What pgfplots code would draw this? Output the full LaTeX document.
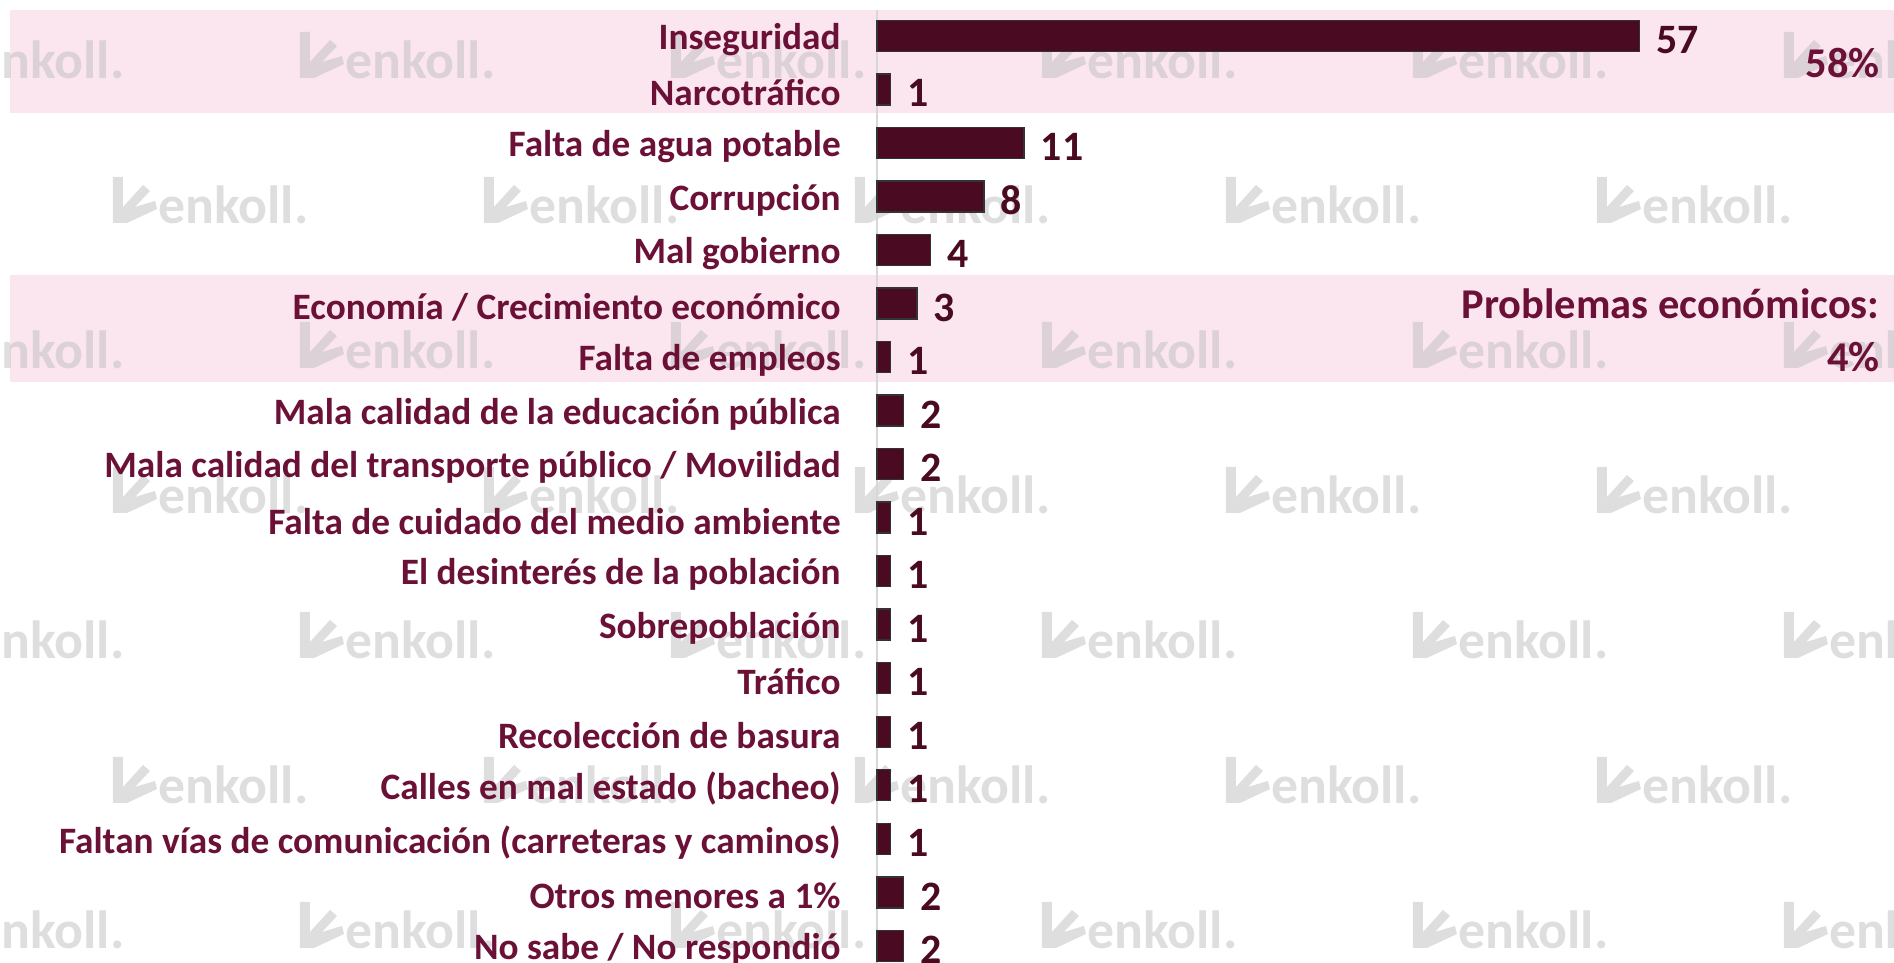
\documentclass[border=0pt]{standalone}
\usepackage{pgfplots}
\pgfplotsset{compat=1.18}
\usepackage{fontspec}
\setmainfont{Carlito}
\definecolor{barc}{RGB}{74,10,34}
\definecolor{labc}{RGB}{107,16,54}
\definecolor{valc}{RGB}{74,10,34}
\definecolor{band}{RGB}{251,230,239}
\definecolor{wm}{RGB}{190,190,190}
\definecolor{axl}{RGB}{215,215,215}
\newcommand{\wmark}[2]{%
  \fill[wm,opacity=0.5] (#1-100,#2-28) -- (#1-90,#2-28) -- (#1-90,#2+2) -- (#1-70,#2-20) -- (#1-63,#2-14) -- (#1-78,#2+2) -- (#1-58,#2-4) -- (#1-56,#2+4) -- (#1-86,#2+18) -- (#1-100,#2+18) -- cycle;
  \node[anchor=west,inner sep=0pt,text=wm,opacity=0.5,font=\bfseries\fontsize{27}{27}\selectfont] at (#1-55,#2) {enkoll.};}
\begin{document}
\begin{tikzpicture}
% background bands and watermarks (pixel grid: 1px = 0.5bp)
\begin{scope}[shift={(0,481.5bp)},x=0.5bp,y=-0.5bp]
\fill[band] (10,10) rectangle (1894,113);
\fill[band] (10,275) rectangle (1894,382);
\begin{scope}
\clip (0,0) rectangle (1894,963);
\foreach \yy in {60,350,640,930}{
  \foreach \xx in {29,400,771,1142,1513,1884}{
    \wmark{\xx}{\yy}
  }}
\foreach \yy in {205,495,785}{
  \foreach \xx in {213,584,955,1326,1697}{
    \wmark{\xx}{\yy}
  }}
\end{scope}
\end{scope}
\begin{axis}[
  at={(438.5bp,0)}, anchor=south west,
  scale only axis, width=508.5bp, height=481.5bp,
  xmin=0, xmax=76, ymin=-17.32, ymax=0.67,
  xbar, bar width=15.5bp,
  axis line style={draw=none},
  xtick=\empty,
  ytick={0,-1,...,-17},
  major tick length=0pt,
  yticklabels={Inseguridad,Narcotráfico,Falta de agua potable,Corrupción,Mal gobierno,Economía / Crecimiento económico,Falta de empleos,Mala calidad de la educación pública,Mala calidad del transporte público / Movilidad,Falta de cuidado del medio ambiente,El desinterés de la población,Sobrepoblación,Tráfico,Recolección de basura,Calles en mal estado (bacheo),Faltan vías de comunicación (carreteras y caminos),Otros menores a 1\%,No sabe / No respondió},
  yticklabel style={font=\bfseries\fontsize{18.7}{19}\selectfont, text=labc, inner sep=0pt, yshift=-1.8bp},
  yticklabel shift=18bp,
  clip=false,
  point meta=x,
  /pgf/number format/assume math mode=true,
  nodes near coords={\pgfmathprintnumber{\pgfplotspointmeta}},
  nodes near coords style={font=\bfseries\fontsize{21}{21}\selectfont, text=valc, anchor=west, inner sep=0pt, xshift=8bp, yshift=-2bp},
]
\draw[axl, line width=1bp] (axis cs:0,0.48) -- (axis cs:0,-17.32);
\addplot[fill=barc, draw=black!80, line width=0.7bp] coordinates {
(57,0) (1,-1) (11,-2) (8,-3) (4,-4) (3,-5) (1,-6) (2,-7) (2,-8) (1,-9) (1,-10) (1,-11) (1,-12) (1,-13) (1,-14) (1,-15) (2,-16) (2,-17)
};
\end{axis}
\begin{scope}[shift={(0,481.5bp)},x=0.5bp,y=-0.5bp]
\node[anchor=east, inner sep=0pt, text=labc, font=\bfseries\fontsize{21.3}{21}\selectfont] at (1880,63) {58\%};
\node[anchor=east, inner sep=0pt, text=labc, font=\bfseries\fontsize{21.3}{21}\selectfont] at (1880,304) {Problemas económicos:};
\node[anchor=east, inner sep=0pt, text=labc, font=\bfseries\fontsize{21.3}{21}\selectfont] at (1880,357) {4\%};
\end{scope}
\pgfresetboundingbox
\path[use as bounding box] (0,0) rectangle (947bp,481.5bp);
\end{tikzpicture}
\end{document}
